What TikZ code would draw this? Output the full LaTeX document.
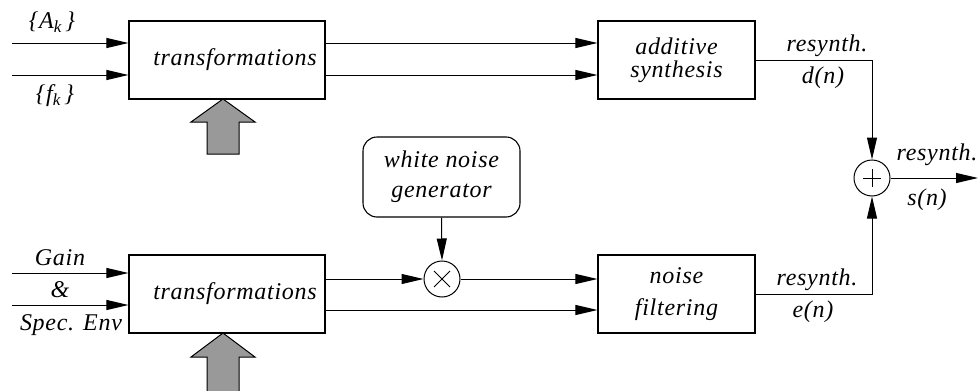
\documentclass[tikz,border=0pt]{standalone}
\usepackage{fontspec}
\newfontfamily\lbl{Liberation Serif}[LetterSpace=3]
\usetikzlibrary{arrows.meta}

\begin{document}
\begin{tikzpicture}[x=1pt,y=-1pt,
  every node/.style={font=\lbl\itshape\fontsize{24}{24}\selectfont},
  blk/.style={draw, line width=1.1pt, minimum width=196pt, minimum height=78pt,
    inner sep=0pt, align=center},
  rblk/.style={blk, rounded corners=14pt, minimum width=157pt, minimum height=80pt},
  junc/.style={draw, circle, line width=1pt, minimum size=36pt, inner sep=0pt},
  sig/.style={line width=1pt, -{Triangle[length=22pt,width=10pt]}},
  lab/.style={inner sep=0pt},
  bigarrow/.style={draw, line width=1pt, fill=black!40},
]
\useasboundingbox (0,0) rectangle (978,391);

% processing blocks
\node[blk] (tr1) at (227,60) {\hspace*{16pt}transformations};
\node[blk, minimum width=157pt] (add) at (676.5,60) {additive\\[-1pt]synthesis};
\node[blk] (tr2) at (227,294) {\hspace*{16pt}transformations};
\node[blk, minimum width=157pt] (nf) at (676.5,294) {noise\\[8pt]filtering};
\node[rblk] (wn) at (441.5,177) {white noise\\[6pt]generator};

% multiplier and adder
\node[junc] (mul) at (442,279) {};
\draw[line width=1pt] (mul.center) ++(-8,-8) -- ++(16,16) ++(0,-16) -- ++(-16,16);
\node[junc] (sum) at (872,178) {};
\draw[line width=1pt] (sum.center) ++(-9,0) -- ++(18,0) ++(-9,-9) -- ++(0,18);

% free ends
\coordinate (a1) at (12,43);
\coordinate (a2) at (12,75);
\coordinate (g1) at (12,273);
\coordinate (g2) at (12,305);
\coordinate (out) at (978,178);

% top branch
\draw[sig] (a1) -- (a1 -| tr1.west);
\draw[sig] (a2) -- (a2 -| tr1.west);
\draw[sig] (tr1.east |- a1) -- (add.west |- a1);
\draw[sig] (tr1.east |- a2) -- (add.west |- a2);
\draw[sig] (add.east) -| (sum.north);

% bottom branch
\draw[sig] (g1) -- (g1 -| tr2.west);
\draw[sig] (g2) -- (g2 -| tr2.west);
\draw[sig] (tr2.east |- mul) -- (mul.west);
\draw[sig] (mul.east) -- (nf.west |- mul);
\draw[sig] (tr2.east |- 0,310) -- (nf.west |- 0,310);
\draw[sig] (wn.south) -- (mul.north);
\draw[sig] (nf.east) -| (sum.south);
\draw[sig] (sum.east) -- (out);

% control arrows
\draw[bigarrow] (223,99) -- (255,122) -- (239,122) -- (239,154) -- (207,154)
  -- (207,122) -- (191,122) -- cycle;
\draw[bigarrow] (223,333) -- (255,357) -- (239,357) -- (239,400) -- (207,400)
  -- (207,357) -- (191,357) -- cycle;

% signal labels
\node[lab] (lA) at (52,22) {\{A\raisebox{-0.35ex}{\fontsize{17}{17}\selectfont k}\,\}};
\node[lab] (lF) at (55,96) {\{f\raisebox{-0.35ex}{\fontsize{17}{17}\selectfont k}\,\}};
\node[lab] (lG) at (60,258) {Gain};
\node[lab] (lAnd) at (60,290) {\&};
\node[lab] (lS) at (71,325) {Spec. Env};
\node[lab] (ld1) at (827,46) {resynth.};
\node[lab] (ld2) at (823,78) {d(n)};
\node[lab] (le1) at (817,280) {resynth.};
\node[lab] (le2) at (813,312) {e(n)};
\node[lab] (ls1) at (937,155) {resynth.};
\node[lab] (ls2) at (927,200) {s(n)};
\end{tikzpicture}
\end{document}
